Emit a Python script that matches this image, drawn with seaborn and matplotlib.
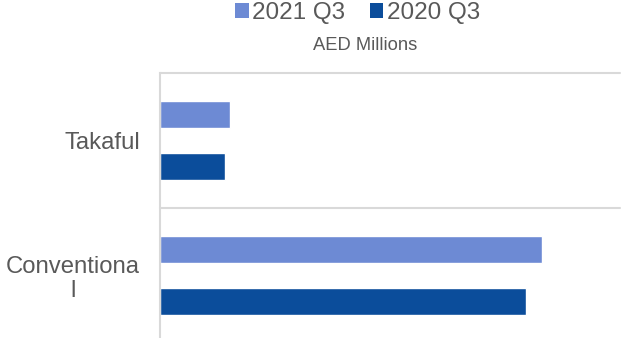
import matplotlib
matplotlib.use("Agg")
import matplotlib.pyplot as plt
from matplotlib.patches import Patch
import pandas as pd
import seaborn as sns

# Premiums by segment, AED millions
categories = ["Takaful", "Conventional"]
category_labels = ["Takaful", "Conventiona\nl"]
periods = ["2021 Q3", "2020 Q3"]
values_2021 = [70, 382]
values_2020 = [65, 366]
colors = ["#6D8AD4", "#0B4D9B"]

df = pd.DataFrame({
    "segment": categories * 2,
    "period": [periods[0]] * 2 + [periods[1]] * 2,
    "value": values_2021 + values_2020,
})

sns.set_theme(style="white")
plt.rcParams["font.family"] = ["Liberation Sans", "DejaVu Sans"]
text_color = "#595959"
grid_color = "#D9D9D9"

fig = plt.figure(figsize=(6.21, 3.38), dpi=100)
ax = fig.add_axes([160 / 621, (338 - 343) / 338, 460 / 621, 270 / 338])

sns.barplot(data=df, y="segment", x="value", hue="period",
            order=categories, hue_order=periods, palette=colors,
            orient="h", width=0.76, gap=0.47, legend=False, ax=ax,
            saturation=1)

ax.set_xlim(0, 460)
ax.set_ylim(1.5, -0.5)
for y in (-0.5, 0.5, 1.5):
    ax.axhline(y, color=grid_color, lw=1.5, zorder=0, clip_on=False)

for side in ("top", "right", "bottom"):
    ax.spines[side].set_visible(False)
ax.spines["left"].set_color(grid_color)
ax.spines["left"].set_linewidth(1.5)

ax.set_xticks([])
ax.set_yticks(range(len(categories)))
ax.set_yticklabels(category_labels, fontsize=17.2, color=text_color,
                   multialignment="center", linespacing=1.1)
ax.tick_params(axis="y", length=0, pad=14.5)
ax.set_xlabel("")
ax.set_ylabel("")

handles = [Patch(facecolor=c, edgecolor="none") for c in colors]
fig.legend(handles, periods, loc="center", bbox_to_anchor=(357.5 / 621, 1 - 13 / 338),
           ncol=2, frameon=False, fontsize=17.5, labelcolor=text_color,
           handlelength=0.55, handleheight=0.55, handletextpad=0.15,
           columnspacing=1.0, borderpad=0, borderaxespad=0)

fig.text(365 / 621, 1 - 45 / 338, "AED Millions", ha="center", va="center",
         fontsize=13.2, color=text_color)

fig.savefig("out.png", dpi=100)
